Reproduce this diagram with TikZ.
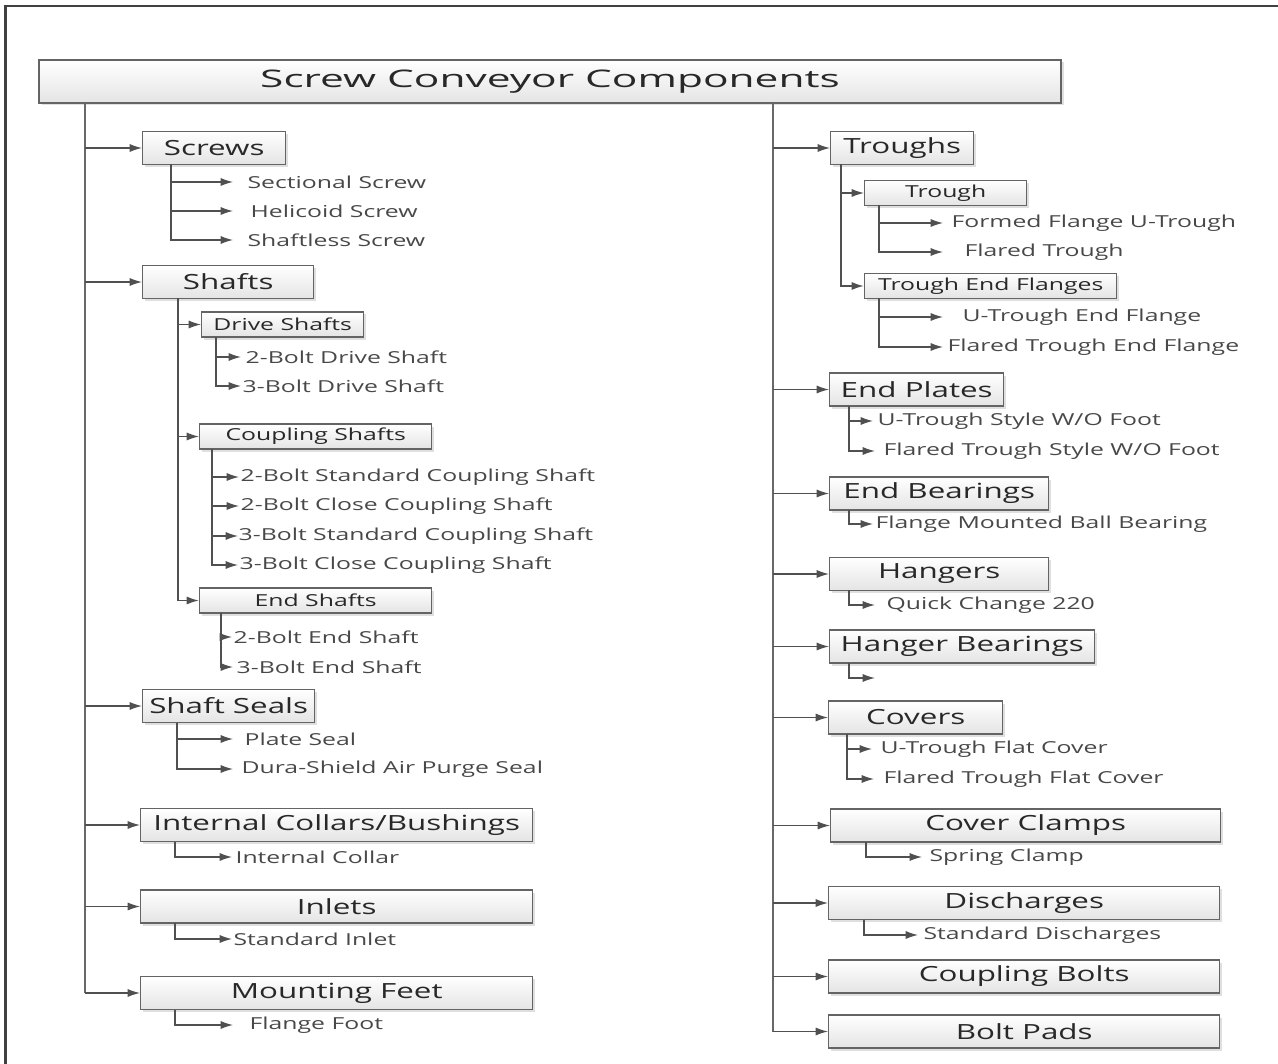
\documentclass[tikz,border=0pt]{standalone}
\usepackage{fontspec}
\setmainfont{Open Sans}[FakeStretch=1.5]
\newfontfamily\titlefont{Open Sans}[FakeStretch=1.75]
\usepackage{tikz}
\usetikzlibrary{arrows.meta, shadows}

\definecolor{linegray}{RGB}{80,80,80}
\definecolor{trunkgray}{RGB}{105,105,105}
\definecolor{boxline}{RGB}{100,100,100}
\definecolor{boxbot}{RGB}{228,228,228}
\definecolor{txtgray}{RGB}{40,40,40}

\begin{document}
\begin{tikzpicture}[x=0.02cm, y=-0.02cm, >={Latex[length=7pt,width=4.6pt]}, line width=0.7pt,
  boxbase/.style={draw=boxline, line width=0.8pt, top color=white, bottom color=boxbot,
    drop shadow={shadow xshift=0.05cm, shadow yshift=-0.05cm, opacity=0.25},
    anchor=west, text=txtgray, inner sep=0pt},
  mainbox/.style={boxbase, minimum height=33*0.02cm, font=\fontsize{11.9}{14}\selectfont},
  subbox/.style={boxbase, minimum height=25*0.02cm, font=\fontsize{9.4}{11}\selectfont},
  leaf/.style={anchor=west, inner ysep=0pt, inner xsep=#1*0.02cm, text=txtgray!85,
    font=\fontsize{9.4}{11}\selectfont},
  leaf/.default=2,
  link/.style={draw=linegray, ->},
  trunk/.style={draw=trunkgray, line width=1.3pt},
]
\useasboundingbox (0,0) rectangle (1278,1064);

% --- frame ---
\draw[line width=1.2pt, black!75] (5.5,1064) -- (5.5,6) -- (1278,6);

% --- title ---
\node[boxbase, anchor=center, minimum width=1022*0.02cm, minimum height=43*0.02cm,
  font=\titlefont\fontsize{13.8}{16}\selectfont] (title) at (550,81.5) {Screw Conveyor Components};

% --- left column ---
\node[mainbox, minimum width=143*0.02cm] (screws) at (142,148) {Screws};
\node[mainbox, minimum width=171*0.02cm] (shafts) at (142,282) {Shafts};
\node[subbox, minimum width=162*0.02cm] (drive) at (201,324.5) {Drive Shafts};
\node[subbox, minimum width=232*0.02cm] (coupling) at (199,436.5) {Coupling Shafts};
\node[subbox, minimum width=232*0.02cm] (endsh) at (199,600.5) {End Shafts};
\node[mainbox, minimum width=172*0.02cm] (seals) at (142,706) {Shaft Seals};
\node[mainbox, minimum width=392*0.02cm] (collars) at (140,825) {Internal Collars/Bushings};
\node[mainbox, minimum width=392*0.02cm] (inlets) at (140,906.5) {Inlets};
\node[mainbox, minimum width=392*0.02cm] (feet) at (140,993) {Mounting Feet};

\node[leaf=14] (sect) at (233,182) {Sectional Screw};
\node[leaf=17] (heli) at (233,211) {Helicoid Screw};
\node[leaf=14] (shless) at (233,240) {Shaftless Screw};
\node[leaf=4] (dtwo) at (241,357) {2-Bolt Drive Shaft};
\node[leaf=1] (dthree) at (241,386) {3-Bolt Drive Shaft};
\node[leaf=1] (cstwo) at (239,477) {2-Bolt Standard Coupling Shaft};
\node[leaf=1] (cctwo) at (239,506) {2-Bolt Close Coupling Shaft};
\node[leaf=0] (csthree) at (238,536) {3-Bolt Standard Coupling Shaft};
\node[leaf=1] (ccthree) at (238,565) {3-Bolt Close Coupling Shaft};
\node[leaf=1] (etwo) at (232,637) {2-Bolt End Shaft};
\node[leaf=3] (ethree) at (233,667) {3-Bolt End Shaft};
\node[leaf=11] (plate) at (233,739) {Plate Seal};
\node[leaf=8] (dura) at (233,769) {Dura-Shield Air Purge Seal};
\node[leaf=3] (collar) at (232,857) {Internal Collar};
\node[leaf=1] (inlet) at (232,939) {Standard Inlet};
\node[leaf=16] (foot) at (233,1025) {Flange Foot};

% --- right column ---
\node[mainbox, minimum width=143*0.02cm] (troughs) at (830,148) {Troughs};
\node[subbox, minimum width=162*0.02cm] (trough) at (864,193) {Trough};
\node[subbox, minimum width=252*0.02cm] (tef) at (864,286) {Trough End Flanges};
\node[mainbox, minimum width=174*0.02cm] (plates) at (829,389.5) {End Plates};
\node[mainbox, minimum width=219*0.02cm] (bearings) at (829,493.5) {End Bearings};
\node[mainbox, minimum width=219*0.02cm] (hangers) at (829,574) {Hangers};
\node[mainbox, minimum width=265*0.02cm] (hbear) at (829,646.5) {Hanger Bearings};
\node[mainbox, minimum width=174*0.02cm] (covers) at (828,717.5) {Covers};
\node[mainbox, minimum width=390*0.02cm] (clamps) at (830,825.5) {Cover Clamps};
\node[mainbox, minimum width=391*0.02cm] (discharges) at (828,903) {Discharges};
\node[mainbox, minimum width=391*0.02cm] (cbolts) at (828,976.5) {Coupling Bolts};
\node[mainbox, minimum width=391*0.02cm] (pads) at (828,1031.5) {Bolt Pads};

\node[leaf=8] (fflange) at (943,223) {Formed Flange U-Trough};
\node[leaf=21] (flared) at (943,252) {Flared Trough};
\node[leaf=19] (uflange) at (943,317) {U-Trough End Flange};
\node[leaf=4] (fendflange) at (943,347) {Flared Trough End Flange};
\node[leaf=4] (ustyle) at (873,421) {U-Trough Style W/O Foot};
\node[leaf=8] (fstyle) at (875,451) {Flared Trough Style W/O Foot};
\node[leaf=2] (ball) at (873,524) {Flange Mounted Ball Bearing};
\node[leaf=11] (quick) at (875,605) {Quick Change 220};
\coordinate (hbend) at (875,678);
\node[leaf=8] (uflat) at (872,749) {U-Trough Flat Cover};
\node[leaf=9] (fflat) at (874,779) {Flared Trough Flat Cover};
\node[leaf=7] (spring) at (922,857) {Spring Clamp};
\node[leaf=5] (stdis) at (918,935) {Standard Discharges};

% --- trunks ---
\coordinate (lt) at (85,103);
\coordinate (rt) at (773,103);
\draw[trunk] (lt) -- (lt |- feet.west);
\draw[trunk] (rt) -- (rt |- pads.west);
\foreach \n in {screws,shafts,seals,collars,inlets,feet}
  \draw[link] (lt |- \n.west) -- (\n.west);
\foreach \n in {troughs,plates,bearings,hangers,hbear,covers,clamps,discharges,cbolts,pads}
  \draw[link] (rt |- \n.west) -- (\n.west);

% --- branches, left ---
\coordinate (scrv) at (171,164);
\draw[link] (scrv) |- (shless.west);
\foreach \n in {sect,heli} \draw[link] (scrv |- \n.west) -- (\n.west);

\coordinate (shv) at (178,298);
\draw[link, line width=1pt] (shv) |- (endsh.west);
\foreach \n in {drive,coupling} \draw[link] (shv |- \n.west) -- (\n.west);

\coordinate (drv) at (216,337);
\draw[link] (drv) |- (dthree.west);
\draw[link] (drv |- dtwo.west) -- (dtwo.west);

\coordinate (cpv) at (212,449);
\draw[link] (cpv) |- (ccthree.west);
\foreach \n in {cstwo,cctwo,csthree} \draw[link] (cpv |- \n.west) -- (\n.west);

\coordinate (esv) at (221,613);
\draw[link] (esv) |- (ethree.west);
\draw[link] (esv |- etwo.west) -- (etwo.west);

\coordinate (slv) at (177,722.5);
\draw[link] (slv) |- (dura.west);
\draw[link] (slv |- plate.west) -- (plate.west);

\draw[link] (175,842) |- (collar.west);
\draw[link] (175,923) |- (inlet.west);
\draw[link] (175,1010) |- (foot.west);

% --- branches, right ---
\coordinate (trv) at (841,164);
\draw[link, line width=1pt] (trv) |- (tef.west);
\draw[link] (trv |- trough.west) -- (trough.west);

\coordinate (tgv) at (879,205.5);
\draw[link] (tgv) |- (flared.west);
\draw[link] (tgv |- fflange.west) -- (fflange.west);

\coordinate (tfv) at (879,298.5);
\draw[link] (tfv) |- (fendflange.west);
\draw[link] (tfv |- uflange.west) -- (uflange.west);

\coordinate (epv) at (849,406);
\draw[link] (epv) |- (fstyle.west);
\draw[link] (epv |- ustyle.west) -- (ustyle.west);

\draw[link] (849,510) |- (ball.west);
\draw[link] (849,590) |- (quick.west);
\draw[link] (849,663) |- (hbend);

\coordinate (cvv) at (847,734);
\draw[link] (cvv) |- (fflat.west);
\draw[link] (cvv |- uflat.west) -- (uflat.west);

\draw[link] (866,842) |- (spring.west);
\draw[link] (864,919.5) |- (stdis.west);
\end{tikzpicture}
\end{document}
